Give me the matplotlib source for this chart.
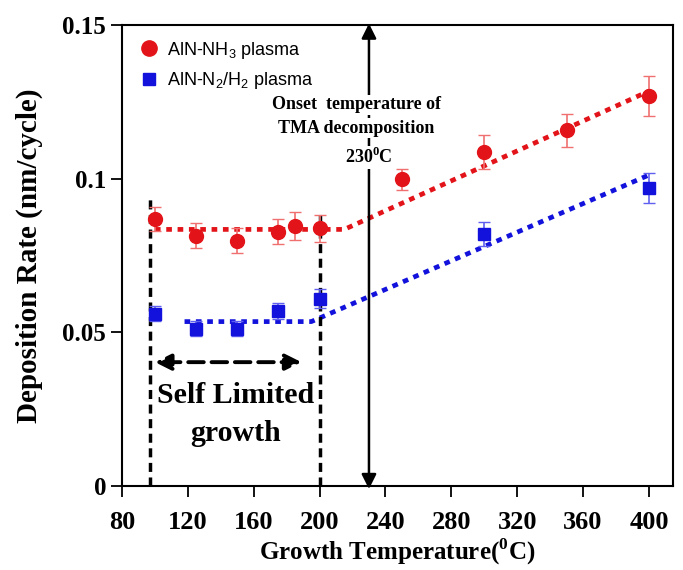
import matplotlib.pyplot as plt
from matplotlib.lines import Line2D

plt.rcParams['font.family'] = ['Liberation Serif', 'DejaVu Serif']
plt.rcParams['mathtext.fontset'] = 'custom'
plt.rcParams['mathtext.rm'] = 'Liberation Serif:bold'
plt.rcParams['mathtext.sf'] = 'Liberation Sans'

# measured data
temp = [100, 125, 150, 175, 185, 200, 250, 300, 350, 400]
rate_nh3 = [0.0869, 0.0815, 0.0798, 0.0828, 0.0846, 0.0838, 0.0998, 0.1087, 0.1157, 0.1268]
err_nh3 = [0.004, 0.004, 0.004, 0.004, 0.0045, 0.0045, 0.0035, 0.0055, 0.0055, 0.0065]

temp_n2 = [100, 125, 150, 175, 200, 300, 400]
rate_n2 = [0.0561, 0.0512, 0.0512, 0.0570, 0.0610, 0.0820, 0.0970]
err_n2 = [0.0025, 0.0025, 0.0025, 0.0025, 0.003, 0.004, 0.005]

# guide lines (flat + linear part)
fit_nh3_x = [100, 215, 400]
fit_nh3_y = [0.0835, 0.0835, 0.1285]
fit_n2_x = [118, 195, 400]
fit_n2_y = [0.0535, 0.0535, 0.1012]

xticks = [80, 120, 160, 200, 240, 280, 320, 360, 400]
yticks = [0, 0.05, 0.1, 0.15]
ytick_labels = ['0', '0.05', '0.1', '0.15']

red = '#e31419'
blue = '#1212dc'

fig = plt.figure(figsize=(6.83, 5.7), dpi=100)
ax = fig.add_axes([0.1786, 0.1474, 0.8064, 0.8086])

ax.plot(fit_nh3_x, fit_nh3_y, color=red, lw=3.4, dashes=(1.2, 1.2))
ax.plot(fit_n2_x, fit_n2_y, color=blue, lw=3.4, dashes=(1.2, 1.2))

ax.errorbar(temp, rate_nh3, yerr=err_nh3, fmt='o', color=red, ms=10,
            ecolor='#f07070', elinewidth=1.2, capsize=4, zorder=5)
ax.errorbar(temp_n2, rate_n2, yerr=err_n2, fmt='s', color=blue, ms=8,
            ecolor='#6060f0', elinewidth=1.2, capsize=4, zorder=5)

# self limited region
ax.plot([97, 97], [0, 0.094], color='black', lw=2.5, dashes=(2.6, 1.6))
ax.plot([200, 200], [0, 0.090], color='black', lw=2.5, dashes=(2.6, 1.6))
ax.annotate('', xy=(100, 0.0403), xytext=(189, 0.0403),
            arrowprops=dict(arrowstyle='<|-|>', color='black', lw=2.8, ls=(0, (4, 2)),
                            mutation_scale=24, shrinkA=0, shrinkB=0))
ax.text(149, 0.0295, 'Self Limited', ha='center', va='center', fontsize=21.5, fontweight='bold')
ax.text(149, 0.0170, 'growth', ha='center', va='center', fontsize=21.5, fontweight='bold')

# onset arrow
ax.annotate('', xy=(230, 0.1505), xytext=(230, -0.001),
            arrowprops=dict(arrowstyle='<|-|>', color='black', lw=1.8,
                            mutation_scale=22, shrinkA=0, shrinkB=0), annotation_clip=False)
box = dict(facecolor='white', edgecolor='none', pad=1)
ax.text(222.5, 0.1240, 'Onset  temperature of', ha='center', va='center', fontsize=13,
        fontweight='bold', bbox=box)
ax.text(222.5, 0.1165, 'TMA decomposition', ha='center', va='center', fontsize=13,
        fontweight='bold', bbox=box)
ax.text(230, 0.1070, '230$^{0}$C', ha='center', va='center', fontsize=13,
        fontweight='bold', bbox=box)

ax.set_xlim(80, 414.5)
ax.set_ylim(0, 0.15)
ax.set_xticks(xticks)
ax.set_yticks(yticks)
ax.set_yticklabels(ytick_labels)
for lab in ax.get_xticklabels():
    lab.set_fontweight('bold')
    lab.set_fontsize(19)
for lab in ax.get_yticklabels():
    lab.set_fontweight('bold')
    lab.set_fontsize(18)
ax.tick_params(direction='out', length=8, width=1.3)
ax.tick_params(axis='x', pad=10)
for s in ax.spines.values():
    s.set_linewidth(1.5)

ax.set_xlabel('Growth Temperature($^{0}$C)', fontsize=18, fontweight='bold', labelpad=2)
ax.set_ylabel('Deposition Rate (nm/cycle)', fontsize=21, fontweight='bold', labelpad=14)

handles = [Line2D([], [], ls='none', marker='o', color=red, ms=11),
           Line2D([], [], ls='none', marker='s', color=blue, ms=9)]
labels = ['AlN-NH$_{\\mathsf{3}}$ plasma', 'AlN-N$_{\\mathsf{2}}$/H$_{\\mathsf{2}}$ plasma']
ax.legend(handles, labels, loc='upper left', frameon=False,
          prop={'family': 'Liberation Sans', 'size': 13},
          handletextpad=0.3, borderaxespad=0.4, labelspacing=0.55, handlelength=1.4)

fig.savefig('out.png', dpi=100)
